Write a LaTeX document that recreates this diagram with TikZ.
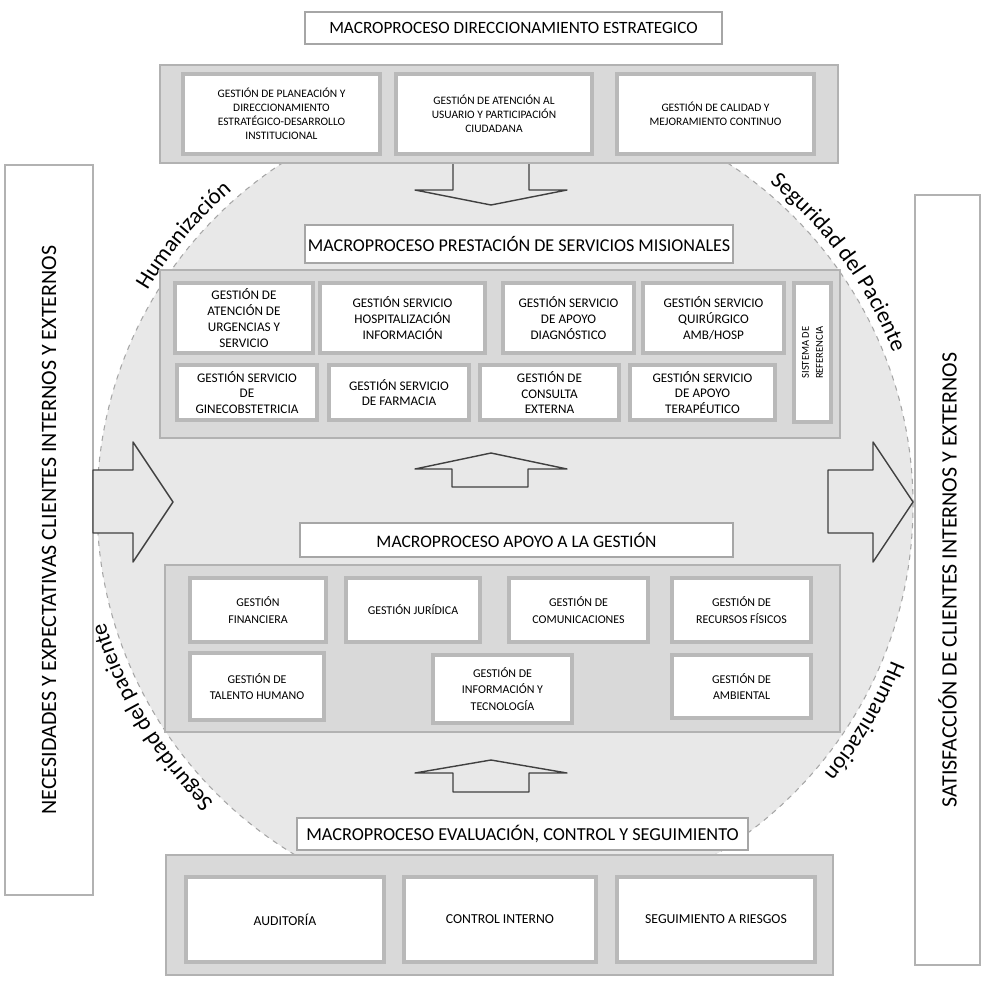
\documentclass[tikz,border=0pt]{standalone}
\usepackage{fontspec}
\setmainfont{Carlito}
\usetikzlibrary{decorations.text}

\newcommand{\arcfont}{\fontsize{13}{13}\selectfont}

\tikzset{
  boxsize/.style 2 args={minimum width=#1*0.02cm, minimum height=#2*0.02cm},
  titlebox/.style={draw=gray!70, fill=white, line width=0.6pt, inner sep=0pt, font=\fontsize{10}{11}\selectfont},
  groupbox/.style={draw=gray!60, fill=gray!30, line width=1.6pt, inner sep=0pt},
  procbox/.style={draw=gray!55, fill=white, line width=1.8pt, inner sep=0pt, align=center},
  sidebox/.style={draw=gray!60, fill=white, line width=0.6pt, inner sep=0pt, rotate=90, font=\fontsize{12.5}{13}\selectfont},
  blockarrow/.style={draw=black!75, fill=gray!18, line width=0.8pt, line join=round},
  arctext/.style={decorate, decoration={text along path, text align=center, raise=1pt}}
}

\begin{document}
\begin{tikzpicture}[x=0.02cm, y=0.02cm]
    \useasboundingbox (0,-980) rectangle (982,0);

    % Big circle behind the processes
    \draw[dashed, gray!70, line width=0.6pt, fill=gray!18] (505,-505) circle[radius=408];

    % Texts along the circle
    \path[arctext, decoration={text={|\arcfont|Humanización}}] (505,-505) ++(154:415) arc[start angle=154, end angle=126, radius=415];
    \path[arctext, decoration={text={|\arcfont|Seguridad del Paciente}}] (505,-505) ++(56:415) arc[start angle=56, end angle=16, radius=415];
    \path[arctext, decoration={text={|\arcfont|Seguridad del paciente}}] (505,-505) ++(228:415) arc[start angle=228, end angle=194, radius=415];
    \path[arctext, decoration={text={|\arcfont|Humanización}}] (505,-505) ++(-18:415) arc[start angle=-18, end angle=-44, radius=415];

    % Side boxes: needs in, satisfaction out
    \node[sidebox, boxsize={730}{88}] (needs) at (49,-530) {NECESIDADES Y EXPECTATIVAS CLIENTES INTERNOS Y EXTERNOS};
    \node[sidebox, boxsize={770}{65}] (satisf) at (947.5,-580) {SATISFACCIÓN DE CLIENTES INTERNOS Y EXTERNOS};

    % Block arrows
    \draw[blockarrow] (93,-470) -- (133,-470) -- (133,-442) -- (173,-502) -- (133,-562) -- (133,-533) -- (93,-533) -- cycle;
    \draw[blockarrow] (828,-470) -- (873,-470) -- (873,-442) -- (913,-502) -- (873,-562) -- (873,-533) -- (828,-533) -- cycle;
    \draw[blockarrow] (453,-163) -- (529,-163) -- (529,-190) -- (567,-190) -- (491,-205) -- (415,-190) -- (453,-190) -- cycle;
    \draw[blockarrow] (452,-487) -- (528,-487) -- (528,-469) -- (567,-469) -- (491,-453) -- (415,-469) -- (452,-469) -- cycle;
    \draw[blockarrow] (453,-792) -- (529,-792) -- (529,-773) -- (567,-773) -- (491,-760) -- (415,-773) -- (453,-773) -- cycle;

    % Macroproceso direccionamiento estrategico
    \node[titlebox, boxsize={417}{32}, font=\fontsize{9.8}{11}\selectfont] (dirTitle) at (513.5,-28) {MACROPROCESO DIRECCIONAMIENTO ESTRATEGICO};
    \node[groupbox, boxsize={678}{98}] (dirGroup) at (499,-114) {};
    \begin{scope}[every node/.append style={font=\fontsize{6.5}{8}\selectfont}]
        \node[procbox, boxsize={197}{80}] (plan) at (281.5,-114) {GESTIÓN DE PLANEACIÓN Y\\DIRECCIONAMIENTO\\ESTRATÉGICO-DESARROLLO\\INSTITUCIONAL};
        \node[procbox, boxsize={196}{80}] (aten) at (494,-114) {GESTIÓN DE ATENCIÓN AL\\USUARIO Y PARTICIPACIÓN\\CIUDADANA};
        \node[procbox, boxsize={197}{80}] (cal) at (715.5,-114) {GESTIÓN DE CALIDAD Y\\MEJORAMIENTO CONTINUO};
    \end{scope}

    % Macroproceso prestacion de servicios misionales
    \node[titlebox, boxsize={428}{38}, font=\fontsize{10.3}{11}\selectfont] (prestTitle) at (519,-244) {MACROPROCESO PRESTACIÓN DE SERVICIOS MISIONALES};
    \node[groupbox, boxsize={680}{168}] (prestGroup) at (500,-354) {};
    \begin{scope}[every node/.append style={font=\fontsize{7.5}{9}\selectfont}]
        \node[procbox, boxsize={138}{70}] (urg) at (244,-318) {GESTIÓN DE\\ATENCIÓN DE\\URGENCIAS Y\\SERVICIO};
        \node[procbox, boxsize={165}{70}] (hosp) at (402.5,-318) {GESTIÓN SERVICIO\\HOSPITALIZACIÓN\\INFORMACIÓN};
        \node[procbox, boxsize={131}{70}] (diag) at (568.5,-318) {GESTIÓN SERVICIO\\DE APOYO\\DIAGNÓSTICO};
        \node[procbox, boxsize={141}{70}] (quir) at (713.5,-318) {GESTIÓN SERVICIO\\QUIRÚRGICO\\AMB/HOSP};
        \node[procbox, boxsize={140}{55}] (gine) at (247,-392.5) {GESTIÓN SERVICIO\\DE\\GINECOBSTETRICIA};
        \node[procbox, boxsize={140}{55}] (farm) at (399,-392.5) {GESTIÓN SERVICIO\\DE FARMACIA};
        \node[procbox, boxsize={139}{55}] (cons) at (549.5,-392.5) {GESTIÓN DE\\CONSULTA\\EXTERNA};
        \node[procbox, boxsize={145}{55}] (tera) at (702.5,-392.5) {GESTIÓN SERVICIO\\DE APOYO\\TERAPÉUTICO};
        \node[procbox, boxsize={139}{37}, rotate=90, font=\fontsize{6}{8}\selectfont] (refe) at (812.5,-352.5) {SISTEMA DE\\REFERENCIA};
    \end{scope}

    % Macroproceso apoyo a la gestion
    \node[titlebox, boxsize={433}{34}] (apoTitle) at (516.5,-540) {MACROPROCESO APOYO A LA GESTIÓN};
    \node[groupbox, boxsize={675}{167}] (apoGroup) at (502.5,-648.5) {};
    \begin{scope}[every node/.append style={font=\fontsize{6.8}{9.5}\selectfont}]
        \node[procbox, boxsize={136}{64}] (fin) at (258,-610) {GESTIÓN\\FINANCIERA};
        \node[procbox, boxsize={134}{64}] (jur) at (413,-610) {GESTIÓN JURÍDICA};
        \node[procbox, boxsize={139}{64}] (com) at (578.5,-610) {GESTIÓN DE\\COMUNICACIONES};
        \node[procbox, boxsize={139}{64}] (rec) at (741.5,-610) {GESTIÓN DE\\RECURSOS FÍSICOS};
        \node[procbox, boxsize={134}{67}] (tal) at (257,-686.5) {GESTIÓN DE\\TALENTO HUMANO};
        \node[procbox, boxsize={139}{68}] (info) at (502.5,-689) {GESTIÓN DE\\INFORMACIÓN Y\\TECNOLOGÍA};
        \node[procbox, boxsize={139}{63}] (amb) at (741.5,-686.5) {GESTIÓN DE\\AMBIENTAL};
    \end{scope}

    % Macroproceso evaluacion, control y seguimiento
    \node[titlebox, boxsize={451}{32}, font=\fontsize{10.4}{11}\selectfont] (evaTitle) at (522.5,-834) {MACROPROCESO EVALUACIÓN, CONTROL Y SEGUIMIENTO};
    \node[groupbox, boxsize={667}{120}] (evaGroup) at (499.5,-915) {};
    \begin{scope}[every node/.append style={font=\fontsize{7.8}{9}\selectfont}]
        \node[procbox, boxsize={198}{85}] (aud) at (285,-919.5) {AUDITORÍA};
        \node[procbox, boxsize={192}{85}] (ctrl) at (500,-919.5) {CONTROL INTERNO};
        \node[procbox, boxsize={198}{85}] (seg) at (716,-919.5) {SEGUIMIENTO A RIESGOS};
    \end{scope}

\end{tikzpicture}
\end{document}
